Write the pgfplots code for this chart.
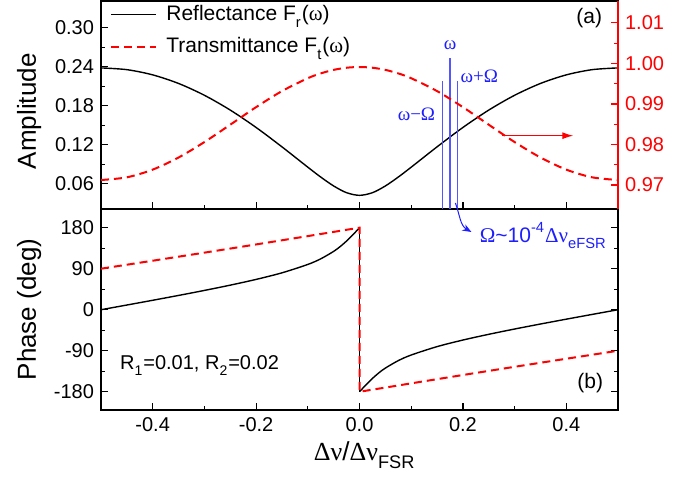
\documentclass[border=0pt]{standalone}
\usepackage{fontspec}
\setmainfont{Liberation Sans}
\newfontfamily\grk{Liberation Serif}
\usepackage{pgfplots}
\pgfplotsset{compat=1.18}
\usetikzlibrary{arrows.meta}

\definecolor{lblue}{RGB}{85,85,255}
\definecolor{tblue}{RGB}{30,30,255}
\newcommand\sub[1]{\raisebox{-0.15em}{\textsubscript{#1}}}
\newcommand\super[1]{\raisebox{0.12em}{\textsuperscript{#1}}}

\pgfplotsset{
  panel/.style={
    scale only axis, width=258.5pt,
    xmin=-0.5, xmax=0.5,
    xtick={-0.4,-0.2,0,0.2,0.4}, minor x tick num=1,
    tick align=inside, major tick length=3.5pt, minor tick length=2pt,
    axis line style={line width=0.7pt},
    every tick/.style={line width=0.6pt},
    tick label style={font=\fontsize{10}{12}\selectfont},
    /pgf/number format/assume math mode=true,
    label style={font=\fontsize{13}{15}\selectfont},
    clip=false,
  },
  rdash/.style={red, line width=1pt, dash pattern=on 4pt off 2.5pt},
}

\begin{document}
\begin{tikzpicture}
\useasboundingbox (-50.5pt,-35.5pt) rectangle (299.5pt,205pt);

% ---- (b) phase ----
\begin{axis}[panel, at={(0pt,0pt)}, anchor=south west, height=100.5pt,
  ymin=-220, ymax=221,
  ytick={-180,-90,0,90,180}, yticklabels={-180,-90,0,90,180},
  minor y tick num=1,
  xticklabels={-0.4,-0.2,0.0,0.2,0.4},
  xtick pos=left, ytick pos=both, yticklabel pos=left,
  xlabel={{\grk Δν}/{\grk Δν}\sub{FSR}},
  xlabel style={at={(axis description cs:0.51,-0.25)}, anchor=base},
  ylabel={Phase (deg)},
  ylabel style={at={(axis description cs:-0.139,0.5)}, anchor=center},
]
\addplot[black, line width=0.7pt, smooth] coordinates {
  (-0.5,0) (-0.45,10.31) (-0.4,20.72) (-0.35,31.35) (-0.3,42.34)
  (-0.25,53.93) (-0.2,66.52) (-0.15,80.95) (-0.1,99.36) (-0.075,111.68)
  (-0.05,128.04) (-0.0375,138.46) (-0.025,150.73) (-0.0125,164.79)
  (-0.00625,172.32) (0,180)
};
\addplot[black, line width=0.7pt] coordinates {(0,180) (0,-180)};
\addplot[black, line width=0.7pt, smooth] coordinates {
  (0,-180) (0.00625,-172.32) (0.0125,-164.79) (0.025,-150.73)
  (0.0375,-138.46) (0.05,-128.04) (0.075,-111.68) (0.1,-99.36)
  (0.15,-80.95) (0.2,-66.52) (0.25,-53.93) (0.3,-42.34) (0.35,-31.35)
  (0.4,-20.72) (0.45,-10.31) (0.5,0)
};
\addplot[rdash] coordinates {
  (-0.5,90) (-0.4,107.53) (-0.3,125.23) (-0.2,143.23) (-0.1,161.52) (0,180)
  (0,-180) (0.1,-161.52) (0.2,-143.23) (0.3,-125.23) (0.4,-107.53) (0.5,-90)
};
\node[anchor=west, inner sep=0pt, font=\fontsize{10}{12}\selectfont]
  at (axis cs:-0.4638,-121.4) {R\sub{1}=0.01, R\sub{2}=0.02};
\node[font=\fontsize{10.5}{12}\selectfont] at (axis cs:0.4464,-160.9) {(b)};
\node[anchor=base west, inner sep=0pt, text=tblue, font=\fontsize{10.5}{12}\selectfont]
  at (axis cs:0.232,147.5) {{\grk Ω}\char`~10\super{-4}{\grk Δν}\sub{eFSR}};
\coordinate (ca) at (axis cs:0.1855,234.2);
\coordinate (cb) at (axis cs:0.2164,170.6);
\end{axis}

% ---- (a) amplitude, left axis ----
\begin{axis}[panel, at={(0pt,100.5pt)}, anchor=south west, height=104pt,
  ymin=0.021, ymax=0.341,
  ytick={0.06,0.12,0.18,0.24,0.30}, yticklabels={0.06,0.12,0.18,0.24,0.30},
  minor y tick num=1,
  xticklabels={}, xtick pos=left, ytick pos=left,
  ylabel={Amplitude},
  ylabel style={at={(axis description cs:-0.139,0.47)}, anchor=center},
  legend style={draw=none, fill=none, at={(axis description cs:0.0174,0.99)},
    anchor=north west, font=\fontsize{10.5}{12}\selectfont,
    inner sep=0pt, row sep=5pt, column sep=3.5pt, nodes={inner sep=1pt}},
  legend cell align=left,
  legend image code/.code={\draw[#1] (0pt,0pt) -- (22.5pt,0pt);},
]
\addplot[black, line width=0.7pt, smooth] coordinates {
  (-0.5,0.23806) (-0.45,0.23537) (-0.4,0.22735) (-0.35,0.21414) (-0.3,0.19595)
  (-0.25,0.17319) (-0.2,0.14643) (-0.15,0.11661) (-0.1,0.08534) (-0.075,0.07016)
  (-0.05,0.05644) (-0.025,0.04607) (0,0.04202) (0.025,0.04607) (0.05,0.05644)
  (0.075,0.07016) (0.1,0.08534) (0.15,0.11661) (0.2,0.14643) (0.25,0.17319)
  (0.3,0.19595) (0.35,0.21414) (0.4,0.22735) (0.45,0.23537) (0.5,0.23806)
};
\addlegendentry{Reflectance F\sub{r}({\grk ω})}
\addlegendimage{rdash}
\addlegendentry{Transmittance F\sub{t}({\grk ω})}
\addplot[lblue, line width=0.7pt] coordinates {(0.16,0.021) (0.16,0.2182)};
\addplot[lblue, line width=0.7pt] coordinates {(0.175,0.021) (0.175,0.253)};
\addplot[lblue, line width=0.7pt] coordinates {(0.189,0.021) (0.189,0.2182)};
\node[text=tblue, font=\fontsize{9.5}{11}\grk] at (axis cs:0.1753,0.2735) {ω};
\node[text=tblue, font=\fontsize{9.5}{11}\grk] at (axis cs:0.2319,0.2248) {ω+Ω};
\node[text=tblue, font=\fontsize{9.5}{11}\grk] at (axis cs:0.1101,0.166) {ω−Ω};
\node[font=\fontsize{10.5}{12}\selectfont] at (axis cs:0.4444,0.3149) {(a)};
\draw[red, line width=0.6pt, -{Latex[length=5.5pt,width=3.5pt]}]
  (axis cs:0.276,0.1338) -- (axis cs:0.4135,0.1338);
\end{axis}

% ---- (a) amplitude, right axis ----
\begin{axis}[panel, at={(0pt,100.5pt)}, anchor=south west, height=104pt,
  ymin=0.9641, ymax=1.0154,
  axis x line=none, axis y line*=right,
  ytick={0.97,0.98,0.99,1.00,1.01}, yticklabels={0.97,0.98,0.99,1.00,1.01},
  minor y tick num=1,
  y axis line style={red, line width=0.7pt},
  ytick style={red}, yticklabel style={text=red},
]
\addplot[rdash, smooth] coordinates {
  (-0.5,0.97125) (-0.45,0.97191) (-0.4,0.97381) (-0.35,0.97680) (-0.3,0.98061)
  (-0.25,0.98489) (-0.2,0.98922) (-0.15,0.99318) (-0.1,0.99635) (-0.075,0.99754)
  (-0.05,0.99841) (-0.025,0.99894) (0,0.99912) (0.025,0.99894) (0.05,0.99841)
  (0.075,0.99754) (0.1,0.99635) (0.15,0.99318) (0.2,0.98922) (0.25,0.98489)
  (0.3,0.98061) (0.35,0.97680) (0.4,0.97381) (0.45,0.97191) (0.5,0.97125)
};
\end{axis}

\draw[tblue, line width=0.5pt, -{Stealth[length=4.5pt,width=3.5pt]}]
  (ca) to[out=-70,in=150] (cb);
\end{tikzpicture}
\end{document}
